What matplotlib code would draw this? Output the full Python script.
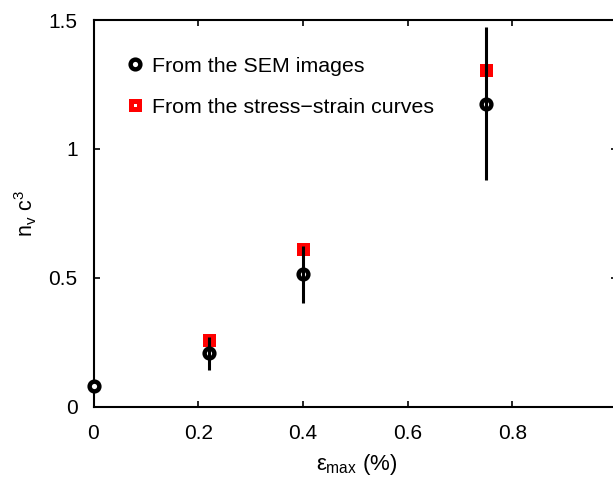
import numpy as np
import matplotlib
matplotlib.use("Agg")
import matplotlib.pyplot as plt

plt.rcParams['font.family'] = ['Liberation Sans', 'DejaVu Sans']
plt.rcParams['mathtext.fontset'] = 'custom'
plt.rcParams['mathtext.rm'] = 'Liberation Sans'
plt.rcParams['mathtext.it'] = 'Liberation Sans'

# data
eps_sem = [0.0, 0.22, 0.40, 0.75]
nc3_sem = [0.08, 0.207, 0.514, 1.176]
err_sem = [0.0, 0.065, 0.11, 0.297]

eps_ss = [0.22, 0.40, 0.75]
nc3_ss = [0.258, 0.613, 1.307]

xticks = [0, 0.2, 0.4, 0.6, 0.8, 1]
xticklabels = ['0', '0.2', '0.4', '0.6', '0.8', '1']
yticks = [0, 0.5, 1, 1.5]
yticklabels = ['0', '0.5', '1', '1.5']

fig = plt.figure(figsize=(6.13, 4.8), dpi=100)
ax = fig.add_axes([93.5 / 613, 73.3 / 480, 523.5 / 613, 386.7 / 480])

ax.plot(eps_ss, nc3_ss, linestyle='none', marker='s', ms=6.0, mew=3.6,
        mec='#ff0000', mfc='white', label='From the stress\u2212strain curves', zorder=3,
        clip_on=False)
ax.plot(eps_sem, nc3_sem, linestyle='none', marker='o', ms=7.0, mew=3.2,
        mec='black', mfc='white', label='From the SEM images', zorder=4,
        clip_on=False)
ax.errorbar(eps_sem, nc3_sem, yerr=err_sem, fmt='none', ecolor='black',
            elinewidth=2.2, capsize=0, zorder=5)

ax.set_xlim(0, 1)
ax.set_ylim(0, 1.5)
ax.set_xticks(xticks)
ax.set_xticklabels(xticklabels)
ax.set_yticks(yticks)
ax.set_yticklabels(yticklabels)
ax.tick_params(direction='in', length=4, width=1.2, labelsize=15,
               top=True, right=True)
ax.tick_params(axis='x', pad=12.5)
ax.tick_params(axis='y', pad=11.5)
for s in ax.spines.values():
    s.set_linewidth(1.5)

ax.set_xlabel(r'$\epsilon_{\mathrm{max}}$ (%)', fontsize=16)
ax.xaxis.set_label_coords(0.503, -0.118)
ax.set_ylabel(r'n$_{\mathrm{v}}$ c$^{\mathrm{3}}$', fontsize=15.5, labelpad=7)

h, l = ax.get_legend_handles_labels()
ax.legend(h[::-1], l[::-1], loc='upper left', bbox_to_anchor=(0.058, 0.905),
          frameon=False, fontsize=15.4, handlelength=1.0, handletextpad=0.32,
          labelspacing=1.04, borderpad=0, borderaxespad=0, numpoints=1)

fig.savefig('out.png', dpi=100)
